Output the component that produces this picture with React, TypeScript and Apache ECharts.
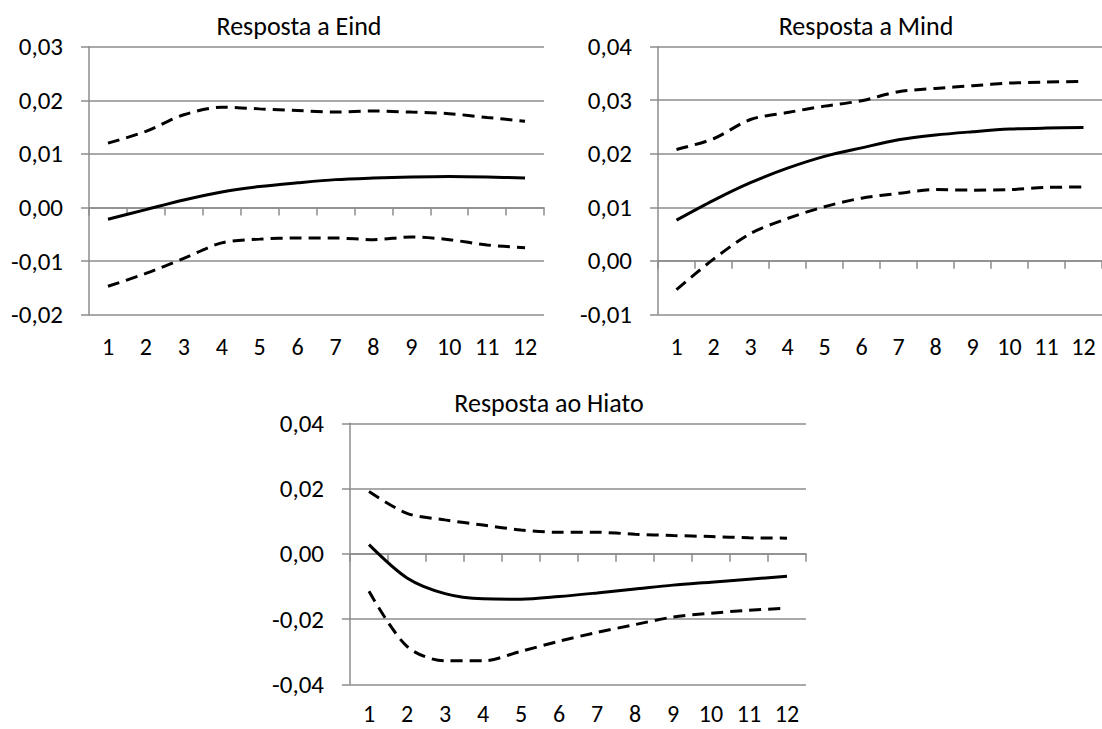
import React, { useEffect, useRef } from "react";
import * as echarts from "echarts";

const categories = ["1", "2", "3", "4", "5", "6", "7", "8", "9", "10", "11", "12"];

const eindUpper = [0.012, 0.0142, 0.0173, 0.0187, 0.0184, 0.0181, 0.0178, 0.018, 0.0178, 0.0175, 0.0168, 0.0161];
const eindIrf = [-0.0022, -0.0004, 0.0014, 0.0029, 0.0039, 0.0046, 0.0052, 0.0055, 0.0057, 0.0058, 0.0057, 0.0055];
const eindLower = [-0.0147, -0.0123, -0.0095, -0.0066, -0.0059, -0.0057, -0.0057, -0.006, -0.0055, -0.006, -0.007, -0.0075];

const mindUpper = [0.0208, 0.0228, 0.0264, 0.0277, 0.0289, 0.0299, 0.0316, 0.0322, 0.0327, 0.0332, 0.0334, 0.0335];
const mindIrf = [0.0076, 0.0113, 0.0146, 0.0173, 0.0195, 0.0211, 0.0226, 0.0235, 0.0241, 0.0246, 0.0248, 0.0249];
const mindLower = [-0.0054, 0.0003, 0.0051, 0.0079, 0.0101, 0.0117, 0.0126, 0.0133, 0.0132, 0.0133, 0.0137, 0.0138];

const hiatoUpper = [0.0191, 0.0124, 0.0104, 0.0088, 0.0073, 0.0066, 0.0066, 0.006, 0.0056, 0.0053, 0.0049, 0.0048];
const hiatoIrf = [0.0028, -0.0074, -0.0122, -0.0138, -0.0139, -0.0131, -0.012, -0.0108, -0.0096, -0.0087, -0.0078, -0.0069];
const hiatoLower = [-0.0115, -0.0284, -0.0328, -0.0328, -0.0299, -0.0268, -0.0241, -0.0217, -0.0194, -0.0182, -0.0173, -0.0167];

const titles = ["Resposta a Eind", "Resposta a Mind", "Resposta ao Hiato"];

const FONT = "Carlito, Calibri, Lato, sans-serif";
const GRAY = "#8c8c8c";

export default function App() {
  const ref = useRef<HTMLDivElement>(null);
  useEffect(() => {
    document.body.style.margin = "0";
    if (!ref.current) return;
    const chart = echarts.init(ref.current, undefined, { renderer: "svg" });

    const panels = [
      { title: titles[0], upper: eindUpper, irf: eindIrf, lower: eindLower, min: -0.02, max: 0.03, interval: 0.01,
        grid: { left: 89, top: 46.7, width: 455, height: 268 }, tx: 299, ty: 26, lm: 21 },
      { title: titles[1], upper: mindUpper, irf: mindIrf, lower: mindLower, min: -0.01, max: 0.04, interval: 0.01,
        grid: { left: 658, top: 46.7, width: 446, height: 267.6 }, tx: 866, ty: 26, lm: 21 },
      { title: titles[2], upper: hiatoUpper, irf: hiatoIrf, lower: hiatoLower, min: -0.04, max: 0.04, interval: 0.02,
        grid: { left: 350, top: 423.3, width: 456, height: 261 }, tx: 549, ty: 403, lm: 18 },
    ];

    const grid: any[] = [];
    const xAxis: any[] = [];
    const yAxis: any[] = [];
    const series: any[] = [];
    const graphic: any[] = [];

    panels.forEach((p, i) => {
      grid.push({ ...p.grid, containLabel: false });
      xAxis.push({
        type: "category",
        gridIndex: i,
        data: categories,
        boundaryGap: true,
        axisLine: { show: true, onZero: true, lineStyle: { color: GRAY, width: 1.5 } },
        axisTick: { show: true, length: 8, inside: false, lineStyle: { color: GRAY, width: 1.5 } },
        axisLabel: { show: false },
        splitLine: { show: false },
      });
      xAxis.push({
        type: "category",
        gridIndex: i,
        data: categories,
        position: "bottom",
        boundaryGap: true,
        axisLine: { show: false, onZero: false },
        axisTick: { show: false },
        axisLabel: { show: true, margin: p.lm, fontSize: 24, lineHeight: 22, fontFamily: FONT, color: "#000" },
        splitLine: { show: false },
      });
      yAxis.push({
        type: "value",
        gridIndex: i,
        min: p.min,
        max: p.max,
        interval: p.interval,
        axisLine: { show: true, lineStyle: { color: GRAY, width: 1.5 } },
        axisTick: { show: true, length: 8, inside: false, lineStyle: { color: GRAY, width: 1.5 } },
        axisLabel: {
          margin: 26,
          fontSize: 25,
          fontFamily: FONT,
          color: "#000",
          formatter: (v: number) => v.toFixed(2).replace(".", ","),
        },
        splitLine: { show: true, lineStyle: { color: GRAY, width: 1.5 } },
      });
      const xi = i * 2;
      const mk = (data: number[], dashed: boolean) => ({
        type: "line",
        xAxisIndex: xi,
        yAxisIndex: i,
        data,
        showSymbol: false,
        symbol: "none",
        smooth: 0.3,
        lineStyle: { color: "#000", width: 3, type: dashed ? [12, 7] : "solid" },
        silent: true,
      });
      series.push(mk(p.upper, true), mk(p.irf, false), mk(p.lower, true));
      graphic.push({
        type: "text",
        x: p.tx,
        y: p.ty,
        style: {
          text: p.title,
          align: "center",
          verticalAlign: "middle",
          fontSize: 26,
          fontFamily: FONT,
          fill: "#000",
        },
      });
    });

    chart.setOption({
      animation: false,
      backgroundColor: "#fff",
      grid,
      xAxis,
      yAxis,
      series,
      graphic,
    });
    return () => chart.dispose();
  }, []);
  return <div ref={ref} style={{ width: 1102, height: 729 }} />;
}
